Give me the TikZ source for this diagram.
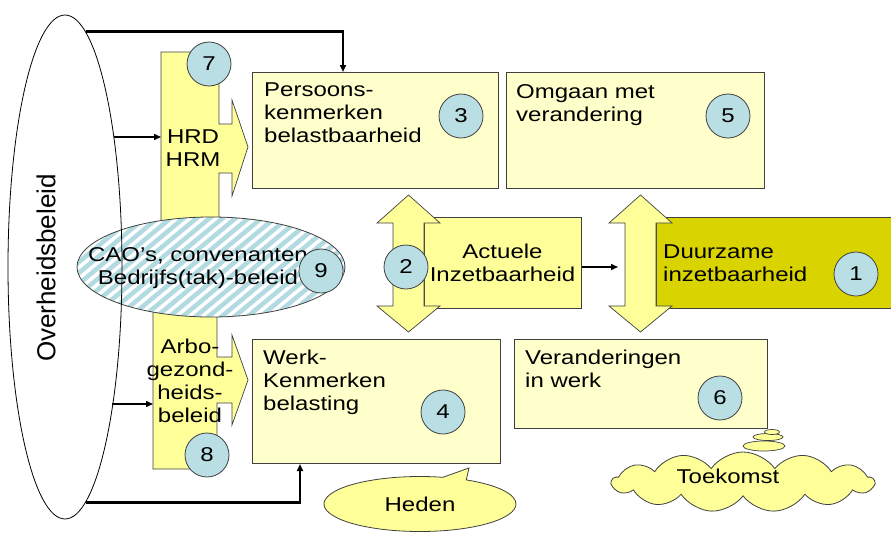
\documentclass[tikz,border=0pt]{standalone}
\usepackage{fontspec}
\setmainfont{Liberation Sans}[FakeStretch=1.2]
\newfontfamily\ovhfont{Liberation Sans}
\usetikzlibrary{arrows.meta,shapes.geometric,shapes.symbols,shapes.callouts}

\definecolor{boxfill}{HTML}{FFFFCC}
\definecolor{barfill}{HTML}{FFFF99}
\definecolor{duurfill}{HTML}{D9D400}
\definecolor{numfill}{HTML}{B9DEE3}
\definecolor{hatchcol}{HTML}{B2DAE1}
\definecolor{edgecol}{HTML}{404040}

\begin{document}
\begin{tikzpicture}[x=1pt,y=-1pt,
    font=\fontsize{20}{23}\selectfont,
    box/.style={rectangle,draw=edgecol,line width=1pt,fill=boxfill,anchor=north west,inner sep=0pt},
    boxtext/.style={anchor=north west,align=left,inner sep=0pt},
    num/.style={circle,draw=edgecol,line width=0.8pt,fill=numfill,minimum size=44pt,inner sep=0pt},
    bar/.style={draw=edgecol,line width=0.7pt,fill=barfill},
    conn/.style={-{Triangle[length=7pt,width=6pt]},line width=1.5pt},
    thickconn/.style={-{Triangle[length=7pt,width=6pt]},line width=2.2pt}]

  \useasboundingbox (0,0) rectangle (891,533);
  \clip (0,0) rectangle (891,533);

  % beleid bars with arrow heads
  \draw[bar] (161,52) -- (219,52) -- (219,124) -- (232,124) -- (232,100) -- (248,147)
    -- (232,196) -- (232,173) -- (219,173) -- (219,235) -- (161,235) -- cycle;
  \draw[bar] (153,300) -- (217,300) -- (217,357) -- (232,357) -- (232,335) -- (248,380)
    -- (232,425) -- (232,403) -- (217,403) -- (217,469) -- (153,469) -- cycle;

  % boxes
  \node[box,minimum width=246pt,minimum height=116pt] (b3) at (252,72) {};
  \node[box,minimum width=258pt,minimum height=116pt] (b5) at (506,72) {};
  \node[box,minimum width=248pt,minimum height=124pt] (b4) at (252,339) {};
  \node[box,minimum width=253pt,minimum height=89pt] (b6) at (514,339) {};
  \node[box,fill=barfill,anchor=center,align=center,minimum width=157pt,minimum height=91pt] (act) at (502.5,262.5) {Actuele\\Inzetbaarheid};
  \node[box,fill=duurfill,minimum width=250pt,minimum height=91pt] (dz) at (656,217) {};

  % double arrows
  \foreach \cx in {408.5,640.5}
    \draw[bar] (\cx,195) -- (\cx+31.5,223) -- (\cx+15.5,223) -- (\cx+15.5,306) -- (\cx+31.5,306)
      -- (\cx,332) -- (\cx-31.5,306) -- (\cx-15.5,306) -- (\cx-15.5,223) -- (\cx-31.5,223) -- cycle;

  % CAO ellipse
  \node[ellipse,draw=edgecol,line width=0.8pt,fill=white,minimum width=268pt,minimum height=100pt,inner sep=0pt,
    path picture={\foreach \i in {-320,-307,...,320}
      \draw[hatchcol,line width=4.5pt] ([shift={(\i-84,70)}]path picture bounding box.center) -- ++(168,-140);}]
    (cao) at (211,267) {};
  \node[align=center] (caotext) at (198,268) {CAO’s, convenanten\\Bedrijfs(tak)-beleid};

  % numbers
  \node[num] (n1) at (856,274) {1};
  \node[num] (n2) at (406,267) {2};
  \node[num] (n3) at (461,116) {3};
  \node[num] (n4) at (443,412) {4};
  \node[num] (n5) at (728,116) {5};
  \node[num] (n6) at (720,398) {6};
  \node[num] (n7) at (209,64) {7};
  \node[num] (n8) at (207,455) {8};
  \node[num] (n9) at (321,271) {9};

  % overheid
  \node[ellipse,draw,line width=0.8pt,minimum width=114pt,minimum height=504pt,inner sep=0pt] (ovh) at (65,267) {};
  \node[rotate=90,font=\ovhfont\fontsize{26}{30}\selectfont] (ovhtext) at (46,268) {Overheidsbeleid};

  % texts
  \node[boxtext] (t3) at ([shift={(12,11)}]b3.north west) {Persoons-\\kenmerken\\belastbaarheid};
  \node[boxtext] (t5) at ([shift={(10,12)}]b5.north west) {Omgaan met\\verandering};
  \node[boxtext] (t4) at ([shift={(11,11)}]b4.north west) {Werk-\\Kenmerken\\belasting};
  \node[boxtext] (t6) at ([shift={(11,11)}]b6.north west) {Veranderingen\\in werk};
  \node[anchor=west,align=left,inner sep=0pt] (dztext) at ([xshift=7pt]dz.west) {Duurzame\\inzetbaarheid};
  \node[align=center] (hrd) at (193,148) {HRD\\HRM};
  \node[align=center] (arbo) at (190,381) {Arbo-\\gezond-\\heids-\\beleid};

  % heden and toekomst
  \node[ellipse callout,draw=edgecol,fill=barfill,line width=0.8pt,minimum width=192pt,minimum height=55pt,
    inner sep=0pt,callout absolute pointer={(469,468)}] (heden) at (420,504) {Heden};
  \node[cloud,draw=edgecol,fill=barfill,line width=0.8pt,cloud puffs=13,cloud puff arc=110,aspect=4.4,
    minimum width=262pt,minimum height=60pt,inner sep=0pt] (cloud) at (743,482) {};
  \node (tk) at (728,476) {Toekomst};
  \node[ellipse,draw=edgecol,fill=barfill,line width=0.7pt,minimum width=42pt,minimum height=10pt,inner sep=0pt] (bub1) at (764,446) {};
  \node[ellipse,draw=edgecol,fill=barfill,line width=0.7pt,minimum width=30pt,minimum height=7pt,inner sep=0pt] (bub2) at (768,437) {};
  \node[ellipse,draw=edgecol,fill=barfill,line width=0.7pt,minimum width=15pt,minimum height=5pt,inner sep=0pt] (bub3) at (772,432) {};

  % connectors
  \coordinate (hrdw) at (161,137);
  \coordinate (arbow) at (153,404);
  \coordinate (drw) at (618,267);
  \draw[thickconn] (ovh.85) -| ([xshift=91pt]b3.north west);
  \draw[thickconn] (ovh.-85) -| ([xshift=48pt]b4.south west);
  \draw[conn] (hrdw -| ovh.69) -- (hrdw);
  \draw[conn] (arbow -| ovh.-72) -- (arbow);
  \draw[conn] (act.east |- drw) -- (drw);
\end{tikzpicture}
\end{document}
